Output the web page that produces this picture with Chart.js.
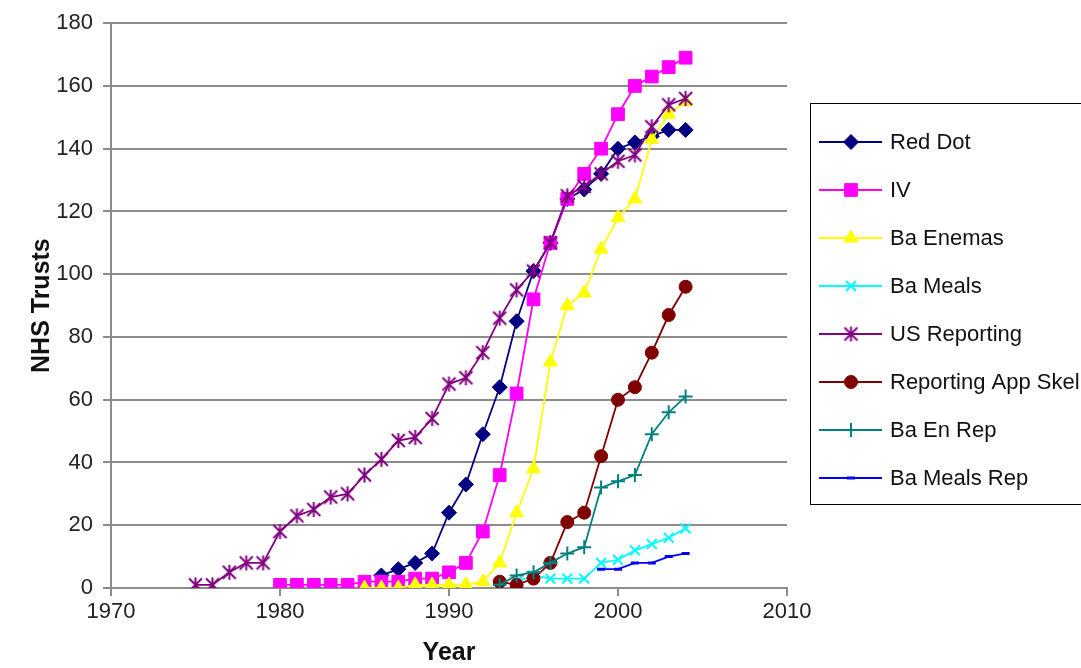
<!DOCTYPE html>
<html lang="en">
<head>
<meta charset="utf-8"/>
<title>NHS Trusts by Year</title>
<script src="https://cdn.jsdelivr.net/npm/chart.js"></script>
<style>
  body { margin: 0; background: #fff; }
  #wrap { width: 1081px; height: 668px; }
</style>
</head>
<body>
<div id="wrap"><canvas id="trustChart" width="1081" height="668"></canvas></div>
<script>
const years = [1975, 1976, 1977, 1978, 1979, 1980, 1981, 1982, 1983, 1984,
               1985, 1986, 1987, 1988, 1989, 1990, 1991, 1992, 1993, 1994,
               1995, 1996, 1997, 1998, 1999, 2000, 2001, 2002, 2003, 2004];

const redDot = [null, null, null, null, null, null, null, null, null, null,
                null, 4, 6, 8, 11, 24, 33, 49, 64, 85,
                101, 110, 124, 127, 132, 140, 142, 144, 146, 146];
const iv = [null, null, null, null, null, 1, 1, 1, 1, 1,
            2, 2, 2, 3, 3, 5, 8, 18, 36, 62,
            92, 110, 124, 132, 140, 151, 160, 163, 166, 169];
const baEnemas = [null, null, null, null, null, null, null, null, null, null,
                  0, 0, 0, 1, 1, 1, 1, 2, 8, 24,
                  38, 72, 90, 94, 108, 118, 124, 143, 151, 155];
const baMeals = [null, null, null, null, null, null, null, null, null, null,
                 null, null, null, null, null, null, null, null, null, 2,
                 4, 3, 3, 3, 8, 9, 12, 14, 16, 19];
const usReporting = [1, 1, 5, 8, 8, 18, 23, 25, 29, 30,
                     36, 41, 47, 48, 54, 65, 67, 75, 86, 95,
                     101, 110, 125, 128, 132, 136, 138, 147, 154, 156];
const appSkel = [null, null, null, null, null, null, null, null, null, null,
                 null, null, null, null, null, null, null, null, 2, 1,
                 3, 8, 21, 24, 42, 60, 64, 75, 87, 96];
const baEnRep = [null, null, null, null, null, null, null, null, null, null,
                 null, null, null, null, null, null, null, null, 1, 4,
                 5, 8, 11, 13, 32, 34, 36, 49, 56, 61];
const baMealsRep = [null, null, null, null, null, null, null, null, null, null,
                    null, null, null, null, null, null, null, null, null, null,
                    null, null, null, null, 6, 6, 8, 8, 10, 11];

const seriesNames = ['Red Dot', 'IV', 'Ba Enemas', 'Ba Meals', 'US Reporting',
                     'Reporting App Skel', 'Ba En Rep', 'Ba Meals Rep'];
const seriesValues = [redDot, iv, baEnemas, baMeals, usReporting, appSkel, baEnRep, baMealsRep];
const xTicks = [1970, 1980, 1990, 2000, 2010];
const yTicks = [0, 20, 40, 60, 80, 100, 120, 140, 160, 180];

// excel style star: an X with a vertical bar through it
function makeStar(color) {
  const c = document.createElement('canvas');
  c.width = 17; c.height = 17;
  const g = c.getContext('2d');
  g.strokeStyle = color;
  g.lineWidth = 2;
  g.beginPath();
  g.moveTo(2, 2); g.lineTo(15, 15);
  g.moveTo(15, 2); g.lineTo(2, 15);
  g.moveTo(8.5, 1); g.lineTo(8.5, 16);
  g.stroke();
  return c;
}

const styles = [
  { color: '#000080', pointStyle: 'rectRot', radius: 7.5, bw: 1 },
  { color: '#ff00ff', pointStyle: 'rect', radius: 9, bw: 1 },
  { color: '#ffff00', pointStyle: 'triangle', radius: 8, bw: 1 },
  { color: '#00ffff', pointStyle: 'crossRot', radius: 7, bw: 2 },
  { color: '#800080', pointStyle: makeStar('#800080'), radius: 8, bw: 2 },
  { color: '#800000', pointStyle: 'circle', radius: 6.5, bw: 1 },
  { color: '#008080', pointStyle: 'cross', radius: 7, bw: 2 },
  { color: '#0000ff', pointStyle: 'line', radius: 4, bw: 3 }
];

function toPoints(vals) {
  return years.map((yr, i) => vals[i] == null ? null : { x: yr, y: vals[i] }).filter(p => p);
}

const datasets = seriesNames.map((name, i) => ({
  label: name,
  data: toPoints(seriesValues[i]),
  borderColor: styles[i].color,
  backgroundColor: styles[i].color,
  borderWidth: 1.8,
  pointStyle: styles[i].pointStyle,
  pointRadius: styles[i].radius,
  pointBorderWidth: styles[i].bw,
  pointBorderColor: styles[i].color,
  pointBackgroundColor: styles[i].color,
  tension: 0,
  order: -i
}));

const FONT = "'Liberation Sans', Arial, sans-serif";

const boxLegend = {
  id: 'boxLegend',
  afterDraw(chart) {
    const ctx = chart.ctx;
    ctx.save();
    ctx.strokeStyle = '#000';
    ctx.lineWidth = 1;
    ctx.strokeRect(810.5, 103.5, 290, 401);
    ctx.font = '22px ' + FONT;
    ctx.textBaseline = 'middle';
    seriesNames.forEach((name, i) => {
      const y = 142 + i * 48;
      const st = styles[i];
      ctx.strokeStyle = st.color;
      ctx.fillStyle = st.color;
      ctx.lineWidth = 2;
      ctx.beginPath();
      ctx.moveTo(819, y);
      ctx.lineTo(882, y);
      ctx.stroke();
      ctx.lineWidth = st.bw;
      Chart.helpers.drawPoint(ctx, { pointStyle: st.pointStyle, radius: st.radius, borderWidth: st.bw, rotation: 0 }, 851, y);
      ctx.fillStyle = '#111';
      ctx.fillText(name, 890, y + 1);
    });
    ctx.restore();
  }
};

new Chart(document.getElementById('trustChart'), {
  type: 'line',
  data: { datasets },
  options: {
    responsive: false,
    animation: false,
    layout: { padding: { top: 20, right: 294, bottom: 0, left: 0 } },
    plugins: { legend: { display: false }, tooltip: { enabled: false } },
    scales: {
      x: {
        type: 'linear',
        min: 1970, max: 2010,
        afterBuildTicks: s => { s.ticks = xTicks.map(v => ({ value: v })); },
        afterFit: s => { s.height = 80; },
        ticks: { font: { family: FONT, size: 22 }, color: '#222', padding: 3,
                 callback: v => String(v) },
        grid: { drawOnChartArea: false, tickLength: 8, color: '#8c8c8c', lineWidth: 2 },
        border: { color: '#8c8c8c', width: 2 },
        title: { display: true, text: 'Year', color: '#111',
                 font: { family: FONT, size: 25, weight: 'bold' }, padding: { top: 0, bottom: 0 } }
      },
      y: {
        min: 0, max: 180,
        afterBuildTicks: s => { s.ticks = yTicks.map(v => ({ value: v })); },
        afterFit: s => { s.width = 111; },
        ticks: { font: { family: FONT, size: 22 }, color: '#222', padding: 10 },
        grid: { color: '#8c8c8c', lineWidth: 2, tickLength: 8 },
        border: { color: '#8c8c8c', width: 2 },
        title: { display: true, text: 'NHS Trusts', color: '#111',
                 font: { family: FONT, size: 25, weight: 'bold' }, padding: { top: 27, bottom: 0 } }
      }
    }
  },
  plugins: [boxLegend]
});
</script>
</body>
</html>
